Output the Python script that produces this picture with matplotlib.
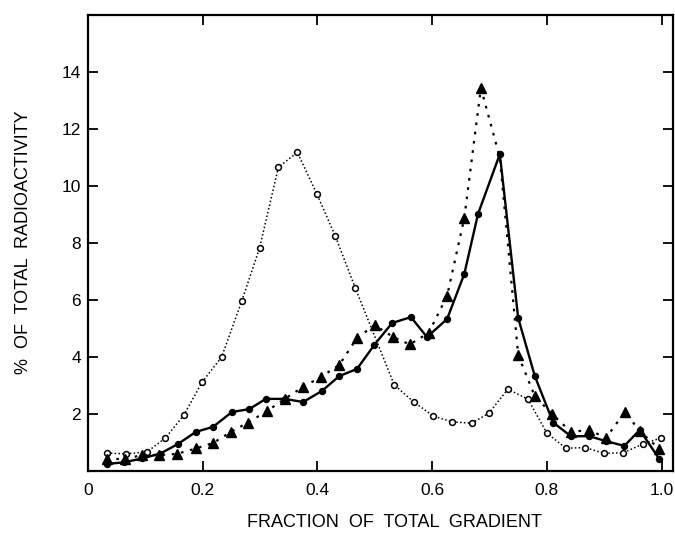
import matplotlib
matplotlib.use("Agg")
import matplotlib.pyplot as plt

plt.rcParams['font.family'] = ['Liberation Sans', 'DejaVu Sans']

# open circles (dotted)
x_open = [0.033, 0.066, 0.103, 0.135, 0.167, 0.199, 0.233, 0.268, 0.299, 0.332, 0.365,
          0.399, 0.431, 0.466, 0.534, 0.568, 0.602, 0.635, 0.669, 0.699, 0.732, 0.767,
          0.800, 0.833, 0.867, 0.900, 0.933, 0.968, 0.999]
y_open = [0.63, 0.60, 0.67, 1.16, 1.96, 3.12, 4.00, 5.96, 7.82, 10.66, 11.18,
          9.72, 8.25, 6.42, 3.02, 2.42, 1.93, 1.72, 1.68, 2.03, 2.87, 2.52,
          1.33, 0.80, 0.82, 0.62, 0.64, 0.95, 1.16]

# filled circles (solid)
x_dot = [0.033, 0.062, 0.094, 0.126, 0.157, 0.188, 0.218, 0.251, 0.281, 0.310, 0.343,
         0.375, 0.408, 0.438, 0.469, 0.499, 0.530, 0.563, 0.591, 0.626, 0.656, 0.680,
         0.718, 0.750, 0.779, 0.811, 0.842, 0.874, 0.903, 0.935, 0.962, 0.996]
y_dot = [0.25, 0.30, 0.44, 0.61, 0.95, 1.37, 1.55, 2.07, 2.17, 2.53, 2.53,
         2.42, 2.81, 3.33, 3.58, 4.42, 5.19, 5.40, 4.70, 5.33, 6.91, 9.02,
         11.12, 5.37, 3.33, 1.70, 1.22, 1.22, 1.05, 0.88, 1.44, 0.42]

# filled triangles (dotted)
x_tri = [0.033, 0.065, 0.094, 0.124, 0.155, 0.188, 0.218, 0.249, 0.279, 0.312, 0.343,
         0.375, 0.406, 0.438, 0.469, 0.500, 0.532, 0.561, 0.594, 0.626, 0.656, 0.685,
         0.718, 0.750, 0.779, 0.809, 0.842, 0.874, 0.903, 0.936, 0.962, 0.996]
y_tri = [0.42, 0.42, 0.56, 0.56, 0.60, 0.79, 0.98, 1.37, 1.70, 2.10, 2.53,
         2.95, 3.30, 3.72, 4.67, 5.12, 4.70, 4.44, 4.85, 6.14, 8.87, 13.44,
         11.00, 4.07, 2.62, 2.00, 1.37, 1.44, 1.16, 2.07, 1.40, 0.77]

fig = plt.figure(figsize=(6.75, 5.36), dpi=100)
ax = fig.add_axes([0.1304, 0.1213, 0.8667, 0.8507])

# the triangle at 0.718 sits under the big filled dot in the original
tri_marks = [i for i in range(len(x_tri)) if i != 22]

ax.plot(x_open, y_open, linestyle=(0, (1, 1.5)), lw=1.1, color='black',
        marker='o', markersize=4.2, markerfacecolor='white', markeredgewidth=1.1, zorder=2)
ax.plot(x_tri, y_tri, linestyle=(0, (1.2, 3)), lw=1.6, color='black',
        marker='^', markersize=6.5, markevery=tri_marks, zorder=3)
ax.plot(x_dot, y_dot, linestyle='-', lw=1.7, color='black',
        marker='o', markersize=4.3, zorder=4)

ax.set_xlim(0, 1.02)
ax.set_ylim(0, 16)
ax.set_xticks([0, 0.2, 0.4, 0.6, 0.8, 1.0])
ax.set_xticklabels(['0', '0.2', '0.4', '0.6', '0.8', '1.0'])
ax.set_yticks([2, 4, 6, 8, 10, 12, 14])
ax.tick_params(direction='in', top=True, right=True, length=7, width=1.3,
               labelsize=12.5)
ax.tick_params(axis='x', pad=9)
ax.tick_params(axis='y', pad=5)
for s in ax.spines.values():
    s.set_linewidth(1.6)

ax.set_xlabel("FRACTION  OF  TOTAL  GRADIENT", fontsize=13, va='center')
ax.xaxis.set_label_coords(0.523, -0.114)
ax.set_ylabel("%  OF  TOTAL  RADIOACTIVITY", fontsize=13, va='center')
ax.yaxis.set_label_coords(-0.111, 0.502)

fig.savefig("out.png", dpi=100)
